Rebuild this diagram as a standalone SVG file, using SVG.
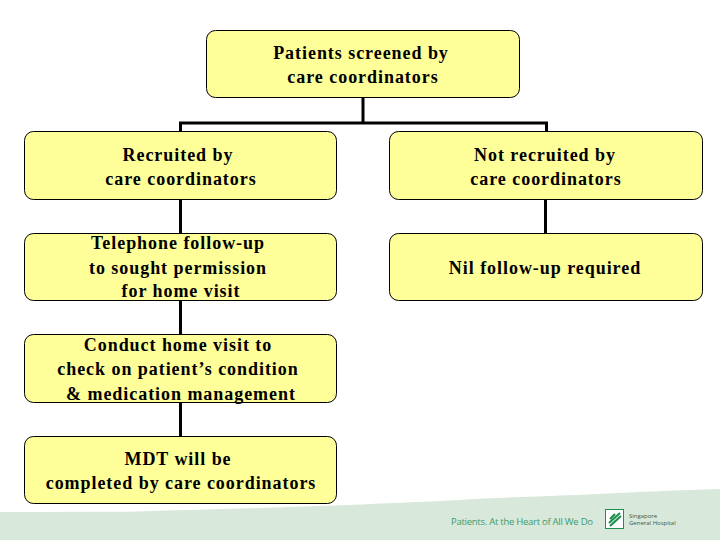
<svg xmlns="http://www.w3.org/2000/svg" width="720" height="540" viewBox="0 0 720 540">
<style>
.n{fill:#ffff99;stroke:#000;stroke-width:1}
.t{font:bold 18px "Liberation Serif",serif;fill:#000;text-anchor:middle;letter-spacing:.95px}
.c{fill:none;stroke:#000;stroke-width:3}
.f{font-family:"Open Sans","Liberation Sans",sans-serif;fill:#3f9a6a}
.g{fill:#3c5a48}
</style>
<rect width="720" height="540" fill="#fff"/>
<g id="footer">
<path d="M0 512L130 511.700C220 509 320 507 459 500C510 497 560 496 597 494C640 492 680 490 720 489V540H0Z" fill="#d8e8da"/>
<text class="f" x="451" y="525" font-size="9.500" textLength="142">Patients. At the Heart of All We Do</text>
<rect x="605.500" y="509.500" width="18" height="19" fill="#fff" stroke="#1f8f50"/>
<path d="M609 523L620 513M610 526L621 516M610 519L615 514" stroke="#1f8f50" stroke-width="2.200" fill="none"/>
<text class="f g" x="629" y="518" font-size="6">Singapore</text>
<text class="f g" x="629" y="525" font-size="6">General Hospital</text>
</g>
<g id="connectors">
<path class="c" d="M363 97V123M180.500 123H546.500M180.500 121.500V132M546.500 121.500V132M180.500 199V234M545.500 199V234M180.500 300V335M180.500 402V437"/>
</g>
<g id="n1"><rect class="n" x="206.500" y="30.500" width="313" height="67" rx="9"/>
<text class="t" x="361" y="59">Patients screened by</text><text class="t" x="363" y="83">care coordinators</text></g>
<g id="n2"><rect class="n" x="24.500" y="131.500" width="312" height="68" rx="9"/>
<text class="t" x="178" y="161">Recruited by</text><text class="t" x="181" y="185">care coordinators</text></g>
<g id="n3"><rect class="n" x="389.500" y="131.500" width="313" height="68" rx="9"/>
<text class="t" x="545" y="161">Not recruited by</text><text class="t" x="546" y="185">care coordinators</text></g>
<g id="n4"><rect class="n" x="24.500" y="233.500" width="312" height="67" rx="9"/>
<text class="t" x="178" y="249">Telephone follow-up</text><text class="t" x="178" y="274">to sought permission</text><text class="t" x="181" y="297">for home visit</text></g>
<g id="n5"><rect class="n" x="389.500" y="233.500" width="313" height="67" rx="9"/>
<text class="t" x="545" y="274">Nil follow-up required</text></g>
<g id="n6"><rect class="n" x="24.500" y="334.500" width="312" height="68" rx="9"/>
<text class="t" x="178" y="351">Conduct home visit to</text><text class="t" x="178" y="375">check on patient’s condition</text><text class="t" x="181" y="400">&amp; medication management</text></g>
<g id="n7"><rect class="n" x="24.500" y="436.500" width="312" height="67" rx="9"/>
<text class="t" x="178" y="465">MDT will be</text><text class="t" x="181" y="489">completed by care coordinators</text></g>
</svg>
